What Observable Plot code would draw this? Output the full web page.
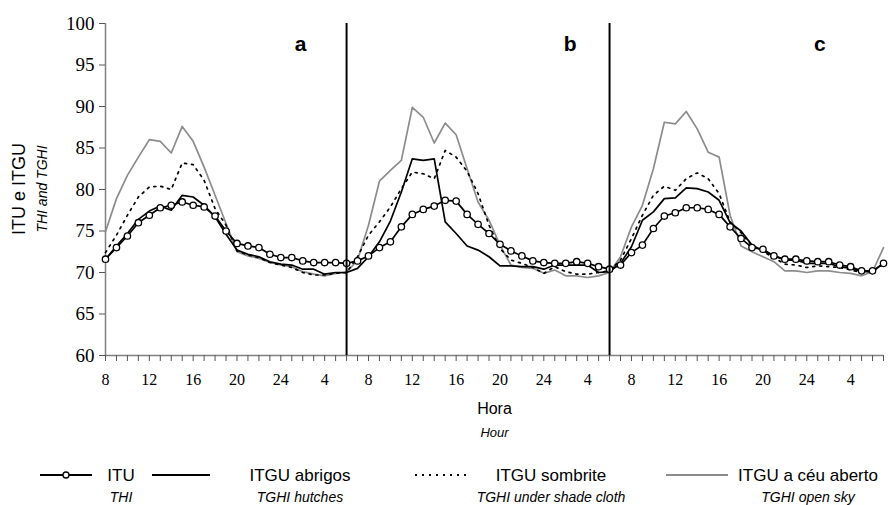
<!DOCTYPE html>
<html><head><meta charset="utf-8">
<script src="https://cdn.jsdelivr.net/npm/d3@7"></script>
<script src="https://cdn.jsdelivr.net/npm/@observablehq/plot@0.6"></script>
<style>
body{margin:0;background:#fff;}
#wrap{position:relative;width:888px;height:505px;overflow:hidden;font-family:"Liberation Sans",Arial,sans-serif;color:#000;}
#legend{position:absolute;left:0;top:455px;width:888px;height:50px;}
.t{position:absolute;white-space:nowrap;font-size:17px;line-height:17px;}
.s{position:absolute;white-space:nowrap;font-size:14px;line-height:14px;font-style:italic;}
.sw{position:absolute;}
.yt{position:absolute;white-space:nowrap;line-height:1;transform:translate(-50%,-50%) rotate(-90deg);}
</style></head><body>
<div id="wrap"><div id="chart"></div>
<div class="yt" style="left:19px;top:189px;font-size:18px;">ITU e ITGU</div>
<div class="yt" style="left:42px;top:189px;font-size:14px;font-style:italic;">THI and TGHI</div>
<div id="legend"></div></div>
<script>
// hour of day for each hourly reading (three 24-h periods, a, b, c)
const panelHours = [8,9,10,11,12,13,14,15,16,17,18,19,20,21,22,23,24,1,2,3,4,5,6,7];
const hours = [...panelHours, ...panelHours, ...panelHours];
const tickLabels = [8,12,16,20,24,4];
const yTicks = [60,65,70,75,80,85,90,95,100];

// ITU (THI)
const itu = [
71.6,73.0,74.4,76.0,76.9,77.8,78.1,78.5,78.1,77.9,76.8,75.0,73.5,73.2,73.0,72.2,71.8,71.8,71.4,71.2,71.2,71.2,71.1,
71.4,72.0,73.0,73.7,75.5,77.0,77.6,78.0,78.7,78.6,77.0,75.8,74.7,73.4,72.6,72.0,71.4,71.2,71.1,71.1,71.3,71.1,70.7,
70.4,70.9,72.4,73.3,75.3,76.8,77.2,77.8,77.8,77.6,77.0,75.5,74.1,73.0,72.8,72.0,71.6,71.6,71.4,71.3,71.3,70.9,70.7,70.2,70.2,71.1];
// ITGU abrigos (TGHI hutches)
const abrigos = [
71.6,73.2,74.7,76.4,77.4,78.0,77.5,79.3,79.1,78.1,76.7,74.6,72.7,72.2,71.9,71.3,71.0,70.9,70.4,70.4,69.8,70.0,70.0,
70.5,71.9,73.7,76.2,79.7,83.7,83.5,83.7,76.1,74.7,73.2,72.7,71.9,70.8,70.8,70.7,70.7,70.4,70.9,70.9,70.9,70.9,70.0,
70.1,71.1,73.1,76.3,77.3,78.9,79.0,80.2,80.1,79.7,78.7,76.0,75.0,73.3,72.6,72.0,71.5,71.5,71.1,71.1,71.1,70.7,70.5,70.1,70.1,71.1];
// ITGU sombrite (TGHI under shade cloth)
const sombrite = [
72.4,74.5,76.9,79.1,80.3,80.4,80.0,83.2,83.0,81.1,77.7,75.7,72.6,72.1,71.8,71.2,70.9,70.6,70.0,69.7,69.7,69.9,70.0,
71.9,74.5,76.1,77.9,80.1,82.1,81.9,81.3,84.7,83.9,82.2,79.5,75.7,72.9,71.5,71.1,70.6,69.9,70.7,70.1,69.8,69.8,70.0,
70.2,71.5,74.1,76.9,79.3,80.4,79.9,81.3,82.0,81.3,79.5,76.1,74.8,73.2,72.5,71.8,71.0,70.9,70.6,70.8,70.7,70.6,70.3,70.0,70.2,71.0];
// ITGU a céu aberto (TGHI open sky)
const ceuAberto = [
74.9,78.9,81.7,83.9,86.0,85.8,84.4,87.6,85.8,82.7,79.3,75.9,72.5,72.0,71.7,71.2,70.9,70.7,70.1,69.8,69.6,69.9,70.0,
71.5,75.7,81.0,82.3,83.5,89.9,88.7,85.6,88.0,86.6,82.5,78.5,76.3,73.3,70.9,70.6,70.5,69.9,70.3,69.6,69.6,69.4,69.6,
70.0,71.9,75.5,78.1,82.5,88.1,87.9,89.4,87.3,84.5,83.9,76.9,73.2,72.5,71.9,71.3,70.2,70.2,70.0,70.2,70.2,70.0,69.9,69.6,70.1,73.0];

// period separators (reading index) and period labels
const dividers = [22, 46];
const panelLabels = ["a","b","c"];
const panelLabelAt = [17.8, 42.4, 65.2];
const panelLabelValue = 97.5;

const rows = hours.map((h, i) => ({i, h, itu: itu[i], abrigos: abrigos[i], sombrite: sombrite[i], ceu: ceuAberto[i]}));
const labelRows = panelLabels.map((t, k) => ({t, x: panelLabelAt[k], y: panelLabelValue}));
const sans = "Liberation Sans, Arial, sans-serif";
const serif = "Liberation Serif, Times New Roman, serif";

const chart = Plot.plot({
  width: 888, height: 455,
  marginLeft: 105, marginRight: 5, marginTop: 23, marginBottom: 100,
  x: {domain: [0, 71]},
  y: {domain: [60, 100]},
  style: {background: "#fff", color: "#000", overflow: "visible"},
  marks: [
    Plot.ruleX([0], {stroke: "#808080", strokeWidth: 1.5}),
    Plot.ruleY([60], {stroke: "#808080", strokeWidth: 1.5}),
    Plot.axisY({ticks: yTicks, tickSize: 6, tickPadding: 5, fontSize: 19, fontFamily: serif, stroke: "#555", label: null}),
    Plot.axisX({ticks: hours.map((h, i) => i), tickSize: 6, tickPadding: 12, fontSize: 16, fontFamily: serif, stroke: "#555", label: null,
      tickFormat: i => tickLabels.includes(hours[i]) ? String(hours[i]) : ""}),
    Plot.line(rows, {x: "i", y: "ceu", stroke: "#8c8c8c", strokeWidth: 1.7}),
    Plot.line(rows, {x: "i", y: "sombrite", stroke: "#000", strokeWidth: 1.7, strokeDasharray: "2,5"}),
    Plot.line(rows, {x: "i", y: "abrigos", stroke: "#000", strokeWidth: 1.7}),
    Plot.line(rows, {x: "i", y: "itu", stroke: "#000", strokeWidth: 1.7}),
    Plot.dot(rows, {x: "i", y: "itu", r: 3.2, fill: "#fff", stroke: "#000", strokeWidth: 1.3}),
    Plot.ruleX(dividers, {stroke: "#000", strokeWidth: 2}),
    Plot.text(labelRows, {x: "x", y: "y", text: "t", fontFamily: sans, fontWeight: "bold", fontSize: 21}),
    Plot.text(["Hora"], {frameAnchor: "bottom", dy: 58, fontFamily: sans, fontSize: 16}),
    Plot.text(["Hour"], {frameAnchor: "bottom", dy: 81, fontFamily: sans, fontSize: 13, fontStyle: "italic"})
  ]
});
d3.select(chart).selectAll('g[aria-label="y-axis tick label"] text, g[aria-label="x-axis tick label"] text')
  .style("font-family", serif);
document.getElementById("chart").appendChild(chart);

// legend
const legendItems = [
  {name: "ITU", sub: "THI", kind: "itu", sw: [40, 92], tx: 121},
  {name: "ITGU abrigos", sub: "TGHI hutches", kind: "abrigos", sw: [152, 210], tx: 300},
  {name: "ITGU sombrite", sub: "TGHI under shade cloth", kind: "sombrite", sw: [415, 468], tx: 551},
  {name: "ITGU a céu aberto", sub: "TGHI open sky", kind: "ceu", sw: [666, 728], tx: 808}
];
const lg = document.getElementById("legend");
const ns = "http://www.w3.org/2000/svg";
legendItems.forEach(it => {
  const svg = document.createElementNS(ns, "svg");
  const w = it.sw[1] - it.sw[0] + 10;
  svg.setAttribute("width", w); svg.setAttribute("height", 12);
  svg.setAttribute("class", "sw");
  svg.style.left = (it.sw[0] - 5) + "px"; svg.style.top = "14px";
  const ln = document.createElementNS(ns, "line");
  ln.setAttribute("x1", 5); ln.setAttribute("x2", w - 5); ln.setAttribute("y1", 6); ln.setAttribute("y2", 6);
  ln.setAttribute("stroke", it.kind === "ceu" ? "#8c8c8c" : "#000");
  ln.setAttribute("stroke-width", it.kind === "ceu" ? 2 : 1.8);
  if (it.kind === "sombrite") ln.setAttribute("stroke-dasharray", "2,5");
  svg.appendChild(ln);
  if (it.kind === "itu") {
    const c = document.createElementNS(ns, "circle");
    c.setAttribute("cx", w / 2); c.setAttribute("cy", 6); c.setAttribute("r", 3);
    c.setAttribute("fill", "#fff"); c.setAttribute("stroke", "#000"); c.setAttribute("stroke-width", 1.3);
    svg.appendChild(c);
  }
  lg.appendChild(svg);
  const t = document.createElement("div");
  t.className = "t"; t.textContent = it.name;
  t.style.left = it.tx + "px"; t.style.top = "12px"; t.style.transform = "translateX(-50%)";
  lg.appendChild(t);
  const s = document.createElement("div");
  s.className = "s"; s.textContent = it.sub;
  s.style.left = it.tx + "px"; s.style.top = "35px"; s.style.transform = "translateX(-50%)";
  lg.appendChild(s);
});
</script>
</body></html>
